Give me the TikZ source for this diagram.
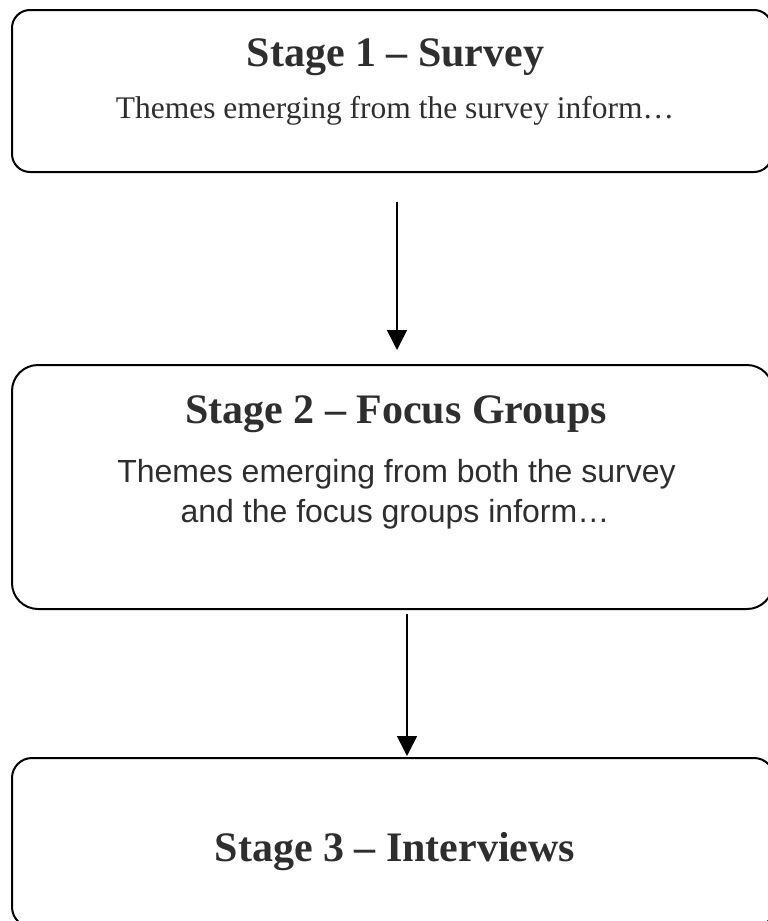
\documentclass[tikz,border=0pt]{standalone}
\usepackage{fontspec}
\setmainfont{Liberation Serif}
\newfontfamily\arialfont{Liberation Sans}
\usetikzlibrary{arrows.meta}
\definecolor{txt}{HTML}{2E2E2E}
\tikzset{
  stagebox/.style={draw=black, line width=2pt, rectangle, inner sep=0pt, outer sep=0pt},
  titletext/.style={anchor=base, inner sep=0pt, text=txt, font=\fontsize{42}{48}\selectfont\bfseries},
  serifbody/.style={anchor=base, inner sep=0pt, text=txt, font=\fontsize{31.5}{38}\selectfont},
  sansbody/.style={anchor=base, inner sep=0pt, text=txt, font=\arialfont\fontsize{32}{40}\selectfont},
  flow/.style={draw=black, line width=1.6pt, -{Triangle[width=20pt,length=20pt]}}
}
\begin{document}
\begin{tikzpicture}[x=1pt,y=-1pt]
\useasboundingbox (0,0) rectangle (768,921);
\clip (0,0) rectangle (768,921);
% boxes
\node[stagebox, rounded corners=18pt, minimum width=760pt, minimum height=162pt] (b1) at (392,91) {};
\node[stagebox, rounded corners=26pt, minimum width=761pt, minimum height=244pt] (b2) at (392.5,487) {};
\node[stagebox, rounded corners=20pt, minimum width=762pt, minimum height=169pt] (b3) at (393,842.5) {};
% texts
\node[titletext] (t1) at (395.5,66) {Stage 1 – Survey};
\node[serifbody] (d1) at (395,118) {Themes emerging from the survey inform…};
\node[titletext] (t2) at (396,423) {Stage 2 – Focus Groups};
\node[sansbody] (d2a) at (396.5,482) {Themes emerging from both the survey};
\node[sansbody] (d2b) at (395,522) {and the focus groups inform…};
\node[titletext] (t3) at (395,861) {Stage 3 – Interviews};
% connectors
\draw[flow] ([xshift=5pt,yshift=-30pt]b1.south) -- ([xshift=4.5pt,yshift=15pt]b2.north);
\draw[flow] ([xshift=14.5pt,yshift=-5pt]b2.south) -- ([xshift=14pt,yshift=2pt]b3.north);
\end{tikzpicture}
\end{document}
